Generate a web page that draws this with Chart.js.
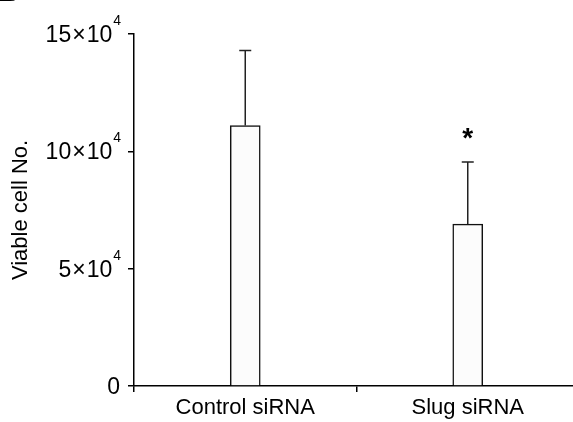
<!DOCTYPE html>
<html>
<head>
<meta charset="utf-8">
<script src="https://cdn.jsdelivr.net/npm/chart.js@4/dist/chart.umd.min.js"></script>
<style>
    html, body { margin: 0; padding: 0; background: #fff; overflow: hidden; }
    #wrap { width: 600px; height: 422px; }
</style>
</head>
<body>
<div id="wrap"><canvas id="chart" width="600" height="422"></canvas></div>
<script>
// values, in cells
const categories = ['Control siRNA', 'Slug siRNA'];
const viableCells = [111000, 69000];
const errorUp = [32000, 26500];
const significance = ['', '*'];
const yTicks = [0, 50000, 100000, 150000];

const FONT = '"Liberation Sans", Arial, sans-serif';

// draws SD whiskers, asterisk and the y tick labels with a raised exponent
const extrasPlugin = {
    id: 'extras',
    afterDatasetsDraw(chart) {
        const ctx = chart.ctx;
        const meta = chart.getDatasetMeta(0);
        const y = chart.scales.y;
        ctx.save();
        meta.data.forEach((bar, i) => {
            const top = y.getPixelForValue(viableCells[i] + errorUp[i]);
            ctx.strokeStyle = '#222';
            ctx.lineWidth = 1.5;
            ctx.beginPath();
            ctx.moveTo(bar.x, bar.y);
            ctx.lineTo(bar.x, top);
            ctx.moveTo(bar.x - 6, top);
            ctx.lineTo(bar.x + 6, top);
            ctx.stroke();
            if (significance[i]) {
                ctx.fillStyle = '#000';
                ctx.font = `bold 28px ${FONT}`;
                ctx.textAlign = 'center';
                ctx.textBaseline = 'middle';
                ctx.fillText(significance[i], bar.x, top - 23);
            }
        });
        ctx.restore();
    },
    afterDraw(chart) {
        const ctx = chart.ctx;
        const y = chart.scales.y;
        const right = chart.chartArea.left - 13;
        ctx.save();
        ctx.fillStyle = '#000';
        ctx.textBaseline = 'alphabetic';
        ctx.textAlign = 'right';
        yTicks.forEach((v) => {
            const py = y.getPixelForValue(v) + 8;
            if (v === 0) {
                ctx.font = `23px ${FONT}`;
                ctx.fillText('0', right - 1, py);
                return;
            }
            ctx.font = `14px ${FONT}`;
            const supW = ctx.measureText('4').width;
            ctx.fillText('4', right, py - 17);
            ctx.font = `23px ${FONT}`;
            const tail = '10';
            const tailW = ctx.measureText(tail).width;
            let x = right - supW - 1;
            ctx.fillText(tail, x, py);
            x -= tailW + 1;
            ctx.fillText('×', x, py);
            x -= ctx.measureText('×').width + 1;
            ctx.fillText(String(v / 10000), x, py);
        });
        // clipped panel letter in the corner
        ctx.font = `bold 30px ${FONT}`;
        ctx.textAlign = 'left';
        ctx.fillText('B', -2, 1);
        ctx.restore();
    }
};

new Chart(document.getElementById('chart'), {
    type: 'bar',
    data: {
        labels: categories,
        datasets: [{
            data: viableCells,
            backgroundColor: '#fcfcfc',
            borderColor: '#111',
            borderWidth: 1.5,
            borderSkipped: 'bottom',
            barThickness: 30,
        }]
    },
    options: {
        responsive: false,
        animation: false,
        layout: { padding: { top: 34, right: 21, left: 0, bottom: 0 } },
        plugins: { legend: { display: false }, tooltip: { enabled: false } },
        scales: {
            x: {
                grid: { display: true, drawOnChartArea: false, offset: true, color: '#000', lineWidth: 1.5, tickLength: 6 },
                border: { display: true, color: '#000', width: 1.5 },
                ticks: { color: '#000', font: { family: FONT, size: 22 }, padding: 3 },
                afterFit(scale) { scale.height = 36; }
            },
            y: {
                min: 0,
                max: 150000,
                afterBuildTicks(scale) { scale.ticks = yTicks.map(v => ({ value: v })); },
                grid: { display: true, drawOnChartArea: false, color: '#000', lineWidth: 1.5, tickLength: 6 },
                border: { display: true, color: '#000', width: 1.5 },
                ticks: { callback: () => '', padding: 0 },
                title: { display: true, text: 'Viable cell No.', color: '#000', font: { family: FONT, size: 22 }, padding: { top: 8, bottom: 0 } },
                afterFit(scale) { scale.width = 134; }
            }
        }
    },
    plugins: [extrasPlugin]
});
</script>
</body>
</html>
